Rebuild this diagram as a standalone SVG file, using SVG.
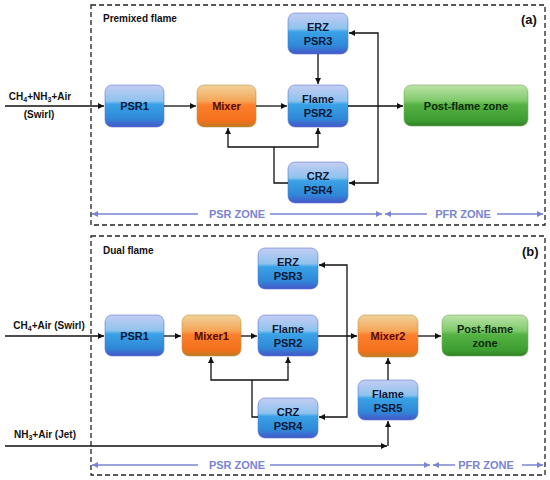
<svg xmlns="http://www.w3.org/2000/svg" width="550" height="480" viewBox="0 0 550 480">
<defs>
<linearGradient id="gBlue" x1="0" y1="0" x2="0" y2="1">
<stop offset="0" stop-color="#c4cdf2"/>
<stop offset="0.38" stop-color="#8ec3ee"/>
<stop offset="0.46" stop-color="#3aa2e6"/>
<stop offset="0.8" stop-color="#2f88d8"/>
<stop offset="1" stop-color="#4656c8"/>
</linearGradient>
<linearGradient id="gOrange" x1="0" y1="0" x2="0" y2="1">
<stop offset="0" stop-color="#f1d29a"/>
<stop offset="0.38" stop-color="#f5a658"/>
<stop offset="0.48" stop-color="#fb7f2c"/>
<stop offset="0.85" stop-color="#f4701c"/>
<stop offset="1" stop-color="#c07a22"/>
</linearGradient>
<linearGradient id="gGreen" x1="0" y1="0" x2="0" y2="1">
<stop offset="0" stop-color="#bce4a8"/>
<stop offset="0.38" stop-color="#80ca6c"/>
<stop offset="0.48" stop-color="#56b244"/>
<stop offset="0.88" stop-color="#3c9c30"/>
<stop offset="1" stop-color="#2f7f25"/>
</linearGradient>
<marker id="ah" viewBox="0 0 10 10" refX="10" refY="5" markerWidth="7" markerHeight="6" markerUnits="userSpaceOnUse" orient="auto">
<path d="M0,0 L10,5 L0,10 z" fill="#111"/>
</marker>
<marker id="zh" viewBox="0 0 10 10" refX="10" refY="5" markerWidth="7" markerHeight="6" markerUnits="userSpaceOnUse" orient="auto">
<path d="M0,0 L10,5 L0,10 z" fill="#7a84d2"/>
</marker>
<style>
.frame{fill:none;stroke:#222;stroke-width:1.3;stroke-dasharray:5 3}
.blue{fill:url(#gBlue);stroke:#5f78d2;stroke-width:0.6}
.orange{fill:url(#gOrange);stroke:#b49a4c;stroke-width:0.6}
.green{fill:url(#gGreen);stroke:#7aa860;stroke-width:0.6}
.nt{font-family:"Liberation Sans",Arial,sans-serif;font-weight:bold;font-size:11px;text-anchor:middle;fill:#0c1838}
.mt{font-family:"Liberation Sans",Arial,sans-serif;font-weight:bold;font-size:11px;text-anchor:middle;fill:#5a0606}
.gt{font-family:"Liberation Sans",Arial,sans-serif;font-weight:bold;font-size:11px;text-anchor:middle;fill:#0c2a0c}
.lab{font-family:"Liberation Sans",Arial,sans-serif;font-weight:bold;font-size:10px;fill:#111}
.pan{font-family:"Liberation Sans",Arial,sans-serif;font-weight:bold;font-size:13px;fill:#111}
.zone{font-family:"Liberation Sans",Arial,sans-serif;font-weight:bold;font-size:11px;fill:#7a84d2;text-anchor:middle}
.ln{fill:none;stroke:#111;stroke-width:1.3}
.zl{fill:none;stroke:#7a84d2;stroke-width:1.5}
</style>
</defs>

<!-- Panel (a) -->
<g id="panel-a">
<rect class="frame" x="91" y="5" width="454" height="220"/>
<text class="lab" x="103" y="22">Premixed flame</text>
<text class="pan" x="521" y="24">(a)</text>
<text class="lab" x="40" y="100" text-anchor="middle">CH<tspan font-size="7" dy="2">4</tspan><tspan dy="-2">+NH</tspan><tspan font-size="7" dy="2">3</tspan><tspan dy="-2">+Air</tspan></text>
<text class="lab" x="39" y="118" text-anchor="middle">(Swirl)</text>
</g>
<g id="a-psr1"><rect class="blue" x="105" y="85" width="59" height="42" rx="7"/><text class="nt" x="134.5" y="110">PSR1</text></g>
<g id="a-mixer"><rect class="orange" x="197" y="85" width="59" height="42" rx="7"/><text class="mt" x="226.5" y="110">Mixer</text></g>
<g id="a-psr2"><rect class="blue" x="288" y="85" width="60" height="42" rx="7"/><text class="nt" x="318" y="103">Flame</text><text class="nt" x="318" y="117">PSR2</text></g>
<g id="a-psr3"><rect class="blue" x="288" y="13" width="60" height="41" rx="7"/><text class="nt" x="318" y="31">ERZ</text><text class="nt" x="318" y="45">PSR3</text></g>
<g id="a-psr4"><rect class="blue" x="288" y="162" width="60" height="41" rx="7"/><text class="nt" x="318" y="180">CRZ</text><text class="nt" x="318" y="194">PSR4</text></g>
<g id="a-post"><rect class="green" x="404" y="85" width="124" height="41" rx="7"/><text class="gt" x="466" y="110">Post-flame zone</text></g>

<!-- Panel (b) -->
<g id="panel-b">
<rect class="frame" x="91" y="236" width="454" height="239"/>
<text class="lab" x="103" y="254">Dual flame</text>
<text class="pan" x="522" y="256">(b)</text>
<text class="lab" x="49" y="329" text-anchor="middle">CH<tspan font-size="7" dy="2">4</tspan><tspan dy="-2">+Air (Swirl)</tspan></text>
<text class="lab" x="45" y="438" text-anchor="middle">NH<tspan font-size="7" dy="2">3</tspan><tspan dy="-2">+Air (Jet)</tspan></text>
</g>
<g id="b-psr1"><rect class="blue" x="105" y="315" width="59" height="41" rx="7"/><text class="nt" x="134.5" y="340">PSR1</text></g>
<g id="b-mixer1"><rect class="orange" x="182" y="315" width="59" height="41" rx="7"/><text class="mt" x="211.5" y="340">Mixer1</text></g>
<g id="b-psr2"><rect class="blue" x="258" y="315" width="60" height="41" rx="7"/><text class="nt" x="288" y="333">Flame</text><text class="nt" x="288" y="347">PSR2</text></g>
<g id="b-psr3"><rect class="blue" x="258" y="248" width="60" height="41" rx="7"/><text class="nt" x="288" y="266">ERZ</text><text class="nt" x="288" y="280">PSR3</text></g>
<g id="b-psr4"><rect class="blue" x="258" y="398" width="60" height="40" rx="7"/><text class="nt" x="288" y="416">CRZ</text><text class="nt" x="288" y="430">PSR4</text></g>
<g id="b-mixer2"><rect class="orange" x="358" y="315" width="60" height="42" rx="7"/><text class="mt" x="388" y="340">Mixer2</text></g>
<g id="b-psr5"><rect class="blue" x="358" y="380" width="60" height="40" rx="7"/><text class="nt" x="388" y="398">Flame</text><text class="nt" x="388" y="412">PSR5</text></g>
<g id="b-post"><rect class="green" x="442" y="315" width="86" height="41" rx="7"/><text class="gt" x="485" y="333">Post-flame</text><text class="gt" x="485" y="347">zone</text></g>

<!-- Connectors -->
<g id="connectors">
<!-- (a) -->
<path class="ln" d="M5,106 H104" marker-end="url(#ah)"/>
<path class="ln" d="M164,106 H196" marker-end="url(#ah)"/>
<path class="ln" d="M256,106 H287" stroke="#2a0a0a" marker-end="url(#ah)"/>
<path class="ln" d="M318,54 V84" marker-end="url(#ah)"/>
<path class="ln" d="M348,106 H403" marker-end="url(#ah)"/>
<path class="ln" d="M378,106 V33 H349" marker-end="url(#ah)"/>
<path class="ln" d="M378,106 V183 H349" marker-end="url(#ah)"/>
<path class="ln" d="M288,183 H274 V147"/>
<path class="ln" d="M274,147 H228 V128" marker-end="url(#ah)"/>
<path class="ln" d="M274,147 H318 V128" marker-end="url(#ah)"/>
<!-- zones (a) -->
<path class="zl" d="M198,214 H92" marker-end="url(#zh)"/>
<path class="zl" d="M270,214 H382" marker-end="url(#zh)"/>
<path class="zl" d="M427,214 H385" marker-end="url(#zh)"/>
<path class="zl" d="M497,214 H543" marker-end="url(#zh)"/>
<text class="zone" x="237" y="218">PSR ZONE</text>
<text class="zone" x="463" y="218">PFR ZONE</text>
<!-- (b) -->
<path class="ln" d="M5,336 H104" marker-end="url(#ah)"/>
<path class="ln" d="M164,336 H181" marker-end="url(#ah)"/>
<path class="ln" d="M241,336 H257" marker-end="url(#ah)"/>
<path class="ln" d="M318,336 H357" marker-end="url(#ah)"/>
<path class="ln" d="M347,336 V265 H319" marker-end="url(#ah)"/>
<path class="ln" d="M347,336 V417 H319" marker-end="url(#ah)"/>
<path class="ln" d="M258,417 H252 V380"/>
<path class="ln" d="M252,380 H211 V357" marker-end="url(#ah)"/>
<path class="ln" d="M252,380 H288 V357" marker-end="url(#ah)"/>
<path class="ln" d="M418,336 H441" stroke="#2a0a0a" marker-end="url(#ah)"/>
<path class="ln" d="M388,380 V358" stroke="#2a0a0a" marker-end="url(#ah)"/>
<path class="ln" d="M5,446 H387" stroke="#2a1414" marker-end="url(#ah)"/>
<path class="ln" d="M388,446 V421" marker-end="url(#ah)"/>
<!-- zones (b) -->
<path class="zl" d="M198,465 H92" marker-end="url(#zh)"/>
<path class="zl" d="M270,465 H430" marker-end="url(#zh)"/>
<path class="zl" d="M455,465 H433" marker-end="url(#zh)"/>
<path class="zl" d="M522,465 H543" marker-end="url(#zh)"/>
<text class="zone" x="237" y="469">PSR ZONE</text>
<text class="zone" x="486" y="469">PFR ZONE</text>
</g>
</svg>
